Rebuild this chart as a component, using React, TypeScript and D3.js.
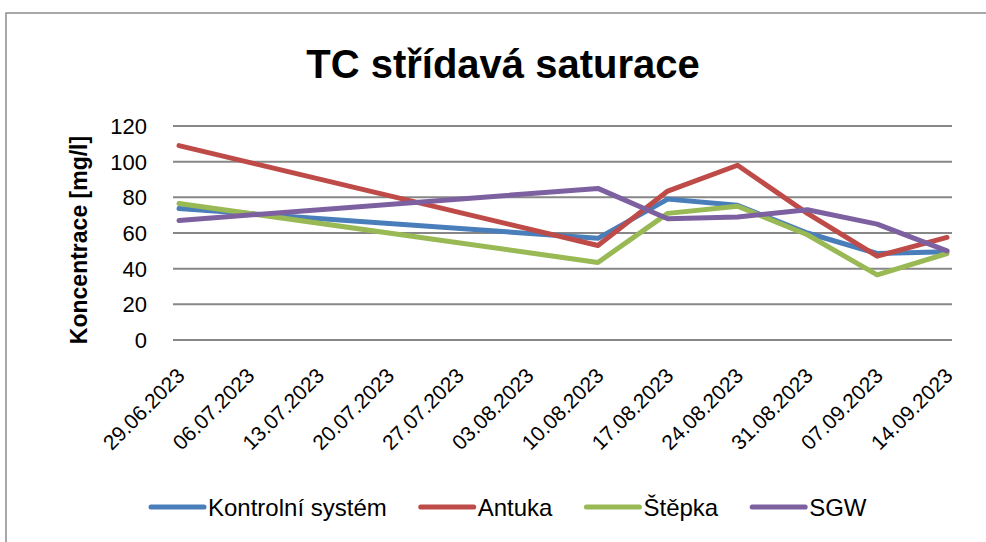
import React, { useEffect, useRef } from 'react';
import * as d3 from 'd3';

const dates = [
  '29.06.2023', '06.07.2023', '13.07.2023', '20.07.2023', '27.07.2023', '03.08.2023',
  '10.08.2023', '17.08.2023', '24.08.2023', '31.08.2023', '07.09.2023', '14.09.2023'
];

// null = no measurement that week (Excel connects across the gap)
const kontrolni = [73.7, null, null, null, null, null, 57, 79, 75.5, 60, 48.5, 49.5];
const antuka = [109, null, null, null, null, null, 53, 83.5, 98, 71, 47, 57.5];
const stepka = [76.5, null, null, null, null, null, 43.5, 71, 75, 59, 36.5, 48.5];
const sgw = [67, null, null, null, null, null, 85, 68, 69, 73, 65, 50];

const yTicks = [0, 20, 40, 60, 80, 100, 120];

const seriesNames = ['Kontrolní systém', 'Antuka', 'Štěpka', 'SGW'];
const seriesColors = ['#4A7EBB', '#BE4B48', '#98B954', '#7D60A0'];

const W = 986;
const H = 542;
const FONT = '"Liberation Sans", Arial, sans-serif';

const App = () => {
  const svgRef = useRef<SVGSVGElement>(null);

  useEffect(() => {
    const svg = d3.select(svgRef.current);
    svg.selectAll('*').remove();

    const allSeries = [kontrolni, antuka, stepka, sgw];

    const x = d3.scalePoint<string>().domain(dates).range([179, 947]);
    const y = d3.scaleLinear().domain([0, 120]).range([340, 126]);

    // chart frame (only top and left edge visible in the crop)
    svg.append('path')
      .attr('d', `M6,${H} L6,13 L${W},13`)
      .attr('fill', 'none')
      .attr('stroke', '#8c8c8c')
      .attr('stroke-width', 1.5);

    svg.append('text')
      .attr('x', 503)
      .attr('y', 78)
      .attr('text-anchor', 'middle')
      .style('font-family', FONT)
      .style('font-size', '40px')
      .style('font-weight', 'bold')
      .text('TC střídavá saturace');

    // gridlines
    svg.append('g')
      .selectAll('line')
      .data(yTicks)
      .enter()
      .append('line')
      .attr('x1', 173)
      .attr('x2', 952)
      .attr('y1', d => y(d))
      .attr('y2', d => y(d))
      .attr('stroke', '#878787')
      .attr('stroke-width', 2);

    svg.append('g')
      .selectAll('text')
      .data(yTicks)
      .enter()
      .append('text')
      .attr('x', 147)
      .attr('y', d => y(d))
      .attr('dy', '0.36em')
      .attr('text-anchor', 'end')
      .style('font-family', FONT)
      .style('font-size', '22px')
      .text(d => d);

    svg.append('text')
      .attr('transform', 'translate(87,240) rotate(-90)')
      .attr('text-anchor', 'middle')
      .style('font-family', FONT)
      .style('font-size', '23px')
      .style('font-weight', 'bold')
      .text('Koncentrace [mg/l]');

    svg.append('g')
      .selectAll('text')
      .data(dates)
      .enter()
      .append('text')
      .attr('transform', d => `translate(${(x(d) ?? 0) + 7},377) rotate(-45)`)
      .attr('text-anchor', 'end')
      .style('font-family', FONT)
      .style('font-size', '21px')
      .text(d => d);

    const line = d3.line<{ date: string; value: number }>()
      .x(d => x(d.date) ?? 0)
      .y(d => y(d.value));

    allSeries.forEach((values, i) => {
      const pts = dates
        .map((date, j) => ({ date, value: values[j] }))
        .filter(p => p.value !== null) as { date: string; value: number }[];
      svg.append('path')
        .attr('d', line(pts))
        .attr('fill', 'none')
        .attr('stroke', seriesColors[i])
        .attr('stroke-width', 5)
        .attr('stroke-linejoin', 'round')
        .attr('stroke-linecap', 'round');
    });

    // legend, laid out from measured text widths
    const legend = svg.append('g').attr('transform', 'translate(151,507)');
    let cx = 0;
    seriesNames.forEach((name, i) => {
      const item = legend.append('g').attr('transform', `translate(${cx},0)`);
      item.append('line')
        .attr('x1', 0)
        .attr('x2', 53)
        .attr('y1', 0)
        .attr('y2', 0)
        .attr('stroke', seriesColors[i])
        .attr('stroke-width', 5)
        .attr('stroke-linecap', 'round');
      const t = item.append('text')
        .attr('x', 57)
        .attr('dy', '0.36em')
        .style('font-family', FONT)
        .style('font-size', '24px')
        .text(name);
      const w = (t.node() as SVGTextElement).getComputedTextLength();
      cx += 57 + w + 34;
    });
  }, []);

  return (
    <svg
      ref={svgRef}
      width={W}
      height={H}
      style={{ position: 'absolute', left: 0, top: 0, background: '#fff' }}
    />
  );
};

export default App;
